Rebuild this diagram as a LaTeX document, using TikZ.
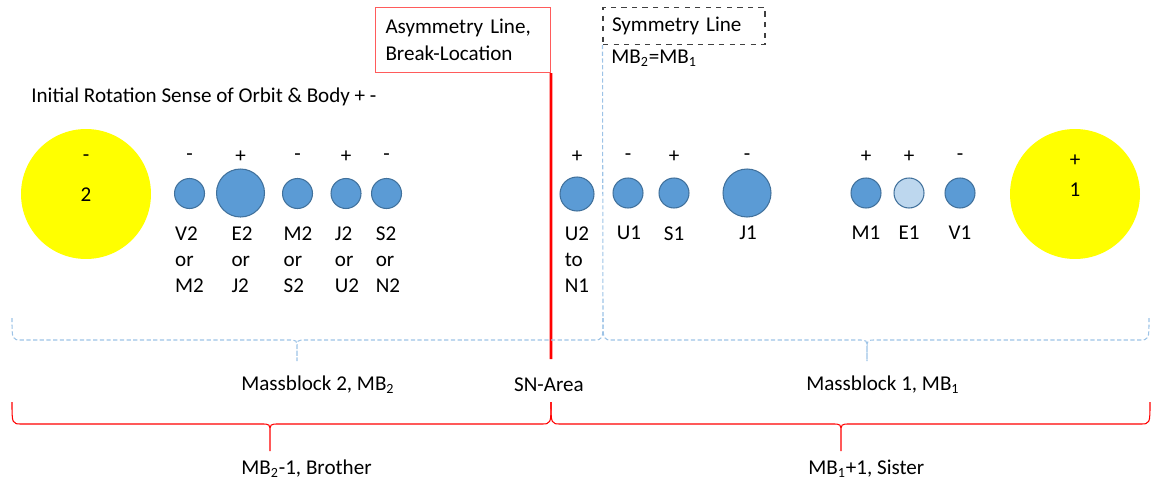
\documentclass[tikz,border=0pt]{standalone}
\usepackage{fontspec}
\setmainfont{Carlito}
\usetikzlibrary{positioning}

\definecolor{planetblue}{HTML}{5B9BD5}
\definecolor{planetedge}{HTML}{41719C}
\definecolor{earthblue}{HTML}{BDD7EE}
\definecolor{sunyellow}{HTML}{FFFF00}
\definecolor{breakred}{HTML}{FF0000}
\definecolor{boxred}{HTML}{FF5B5B}
\definecolor{massblue}{HTML}{9DC3E6}
\definecolor{symgray}{HTML}{404040}

% curly brace: [style]{x left}{x right}{x tip}{y ends}{y line}{y tip}
\newcommand{\curlybrace}[7][]{%
  \draw[#1] (#2,#5) .. controls (#2,#6) .. ({#2+10},#6) -- ({#4-9},#6)
      .. controls (#4,#6) .. (#4,{#6+9}) -- (#4,#7)
    (#3,#5) .. controls (#3,#6) .. ({#3-10},#6) -- ({#4+9},#6)
      .. controls (#4,#6) .. (#4,{#6+9}) -- (#4,#7);}

\begin{document}
\begin{tikzpicture}[x=0.02cm,y=-0.02cm,
    every node/.style={font=\fontsize{12}{15}\selectfont},
    sun/.style={circle,fill=sunyellow,inner sep=0pt,minimum size=2.6cm},
    planet/.style={circle,draw=planetedge,fill=planetblue,line width=0.6pt,
                   inner sep=0pt,minimum size=0.6cm},
    bigplanet/.style={planet,minimum size=0.96cm},
    sign/.style={inner sep=0pt},
    plabel/.style={align=left,anchor=north,inner sep=0pt},
    txt/.style={inner sep=0pt},
    breakline/.style={draw=breakred,line width=1.5pt},
    massbrace/.style={draw=massblue,line width=0.6pt,dash pattern=on 2.4pt off 1.4pt},
    sibbrace/.style={draw=breakred,line width=0.6pt},
]
\useasboundingbox (0,0) rectangle (1152,483);

% ---- Lines and headers ---------------------------------------------------
\node[draw=boxred,line width=0.6pt,minimum width=3.5cm,minimum height=1.3cm,
      inner xsep=0.2cm,text width=3.1cm,align=left] (asym) at (463,40)
    {Asymmetry Line,\\Break-Location};
\coordinate (breakfoot) at (551,359);
\draw[breakline] (asym.south east) -- (breakfoot);

\node[draw=symgray,dashed,line width=0.6pt,minimum width=3.24cm,minimum height=0.74cm,
      inner xsep=0.18cm,text width=2.88cm,align=left] (sym) at (684,26) {Symmetry Line};
\node[txt,anchor=west] (mbeq) at (611,58) {MB\textsubscript{2}=MB\textsubscript{1}};
\coordinate (symfoot) at (603,318);
\draw[massbrace] (sym.south west) -- (symfoot);

\node[txt,anchor=west] (sense) at (31,97) {Initial Rotation Sense of Orbit \& Body + -};

% ---- Suns ----------------------------------------------------------------
\node[sun] (sun2) at (86,194) {};
\node[sign] (ssun2) at (86,158) {-};
\node[txt] (nsun2) at (86,195) {2};
\node[sun] (sun1) at (1075,194) {};
\node[sign] (ssun1) at (1075,161) {+};
\node[txt] (nsun1) at (1075,190) {1};

% ---- Massblock 2 planets -------------------------------------------------
\node[planet] (V2) at (189.5,193.5) {};
\node[sign] (sV2) at (189.5,157) {-};
\node[plabel] (lV2) at (189.5,226) {V2\\or\\M2};

\node[bigplanet] (E2) at (240.5,193) {};
\node[sign] (sE2) at (240.5,157) {+};
\node[plabel] (lE2) at (242,226) {E2\\or\\J2};

\node[planet] (M2) at (297.5,193.5) {};
\node[sign] (sM2) at (297.5,157) {-};
\node[plabel] (lM2) at (298,226) {M2\\or\\S2};

\node[planet] (J2) at (346,193.5) {};
\node[sign] (sJ2) at (346,157) {+};
\node[plabel] (lJ2) at (347,226) {J2\\or\\U2};

\node[planet] (S2) at (386.5,193.5) {};
\node[sign] (sS2) at (386.5,157) {-};
\node[plabel] (lS2) at (388,226) {S2\\or\\N2};

% ---- SN-Area and Massblock 1 planets -------------------------------------
\node[planet,minimum size=0.68cm] (U2) at (577,194) {};
\node[sign] (sU2) at (577,157) {+};
\node[plabel] (lU2) at (577,226) {U2\\to\\N1};

\node[planet] (U1) at (628,193) {};
\node[sign] (sU1) at (628,157) {-};
\node[plabel] (lU1) at (629,226) {U1};

\node[planet] (S1) at (674,193) {};
\node[sign] (sS1) at (674,157) {+};
\node[plabel] (lS1) at (674,226) {S1};

\node[bigplanet] (J1) at (747,193) {};
\node[sign] (sJ1) at (747,157) {-};
\node[plabel] (lJ1) at (748,226) {J1};

\node[planet] (M1) at (866,193) {};
\node[sign] (sM1) at (866,157) {+};
\node[plabel] (lM1) at (866,226) {M1};

\node[planet,fill=earthblue] (E1) at (909,193) {};
\node[sign] (sE1) at (909,157) {+};
\node[plabel] (lE1) at (909,226) {E1};

\node[planet] (V1) at (960,193) {};
\node[sign] (sV1) at (960,157) {-};
\node[plabel] (lV1) at (960,226) {V1};

% ---- Braces --------------------------------------------------------------
\curlybrace[massbrace]{12}{603}{297}{318}{340}{361}
\curlybrace[massbrace]{603}{1149}{867}{318}{340}{361}
\node[txt,anchor=west] (mb2) at (241,385) {Massblock 2, MB\textsubscript{2}};
\node[txt] (sn) at (549,385) {SN-Area};
\node[txt,anchor=west] (mb1) at (806,385) {Massblock 1, MB\textsubscript{1}};

\curlybrace[sibbrace]{12}{551}{270}{402}{424}{451}
\curlybrace[sibbrace]{551}{1150}{841}{402}{424}{451}
\node[txt,anchor=west] (brother) at (241,469) {MB\textsubscript{2}-1, Brother};
\node[txt,anchor=west] (sister) at (808,469) {MB\textsubscript{1}+1, Sister};

\end{tikzpicture}
\end{document}
